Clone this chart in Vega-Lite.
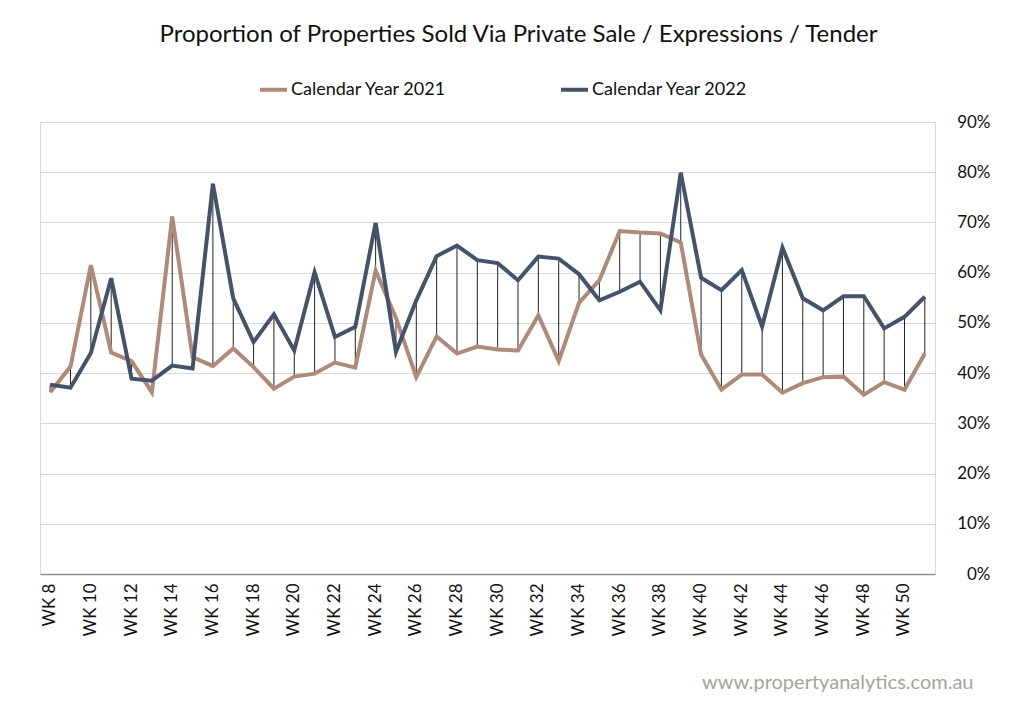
{
  "$schema": "https://vega.github.io/schema/vega-lite/v6.json",
  "width": 895,
  "height": 452,
  "autosize": "none",
  "padding": {"left": 40, "top": 122, "right": 89, "bottom": 138},
  "background": "white",
  "config": {"font": "Lato", "view": {"stroke": "#d9d9d9", "strokeWidth": 1}},
  "title": {"text": "Proportion of Properties Sold Via Private Sale / Expressions / Tender", "fontSize": 24, "fontWeight": "normal", "color": "#111111", "anchor": "middle", "frame": "group", "dx": 31, "offset": 27},
  "data": {"values": [
    {"week": "WK 8", "y2021": 36.2, "y2022": 37.7},
    {"week": "WK 9", "y2021": 41.3, "y2022": 37.1},
    {"week": "WK 10", "y2021": 61.5, "y2022": 44.0},
    {"week": "WK 11", "y2021": 44.1, "y2022": 58.9},
    {"week": "WK 12", "y2021": 42.4, "y2022": 38.9},
    {"week": "WK 13", "y2021": 36.2, "y2022": 38.5},
    {"week": "WK 14", "y2021": 71.2, "y2022": 41.5},
    {"week": "WK 15", "y2021": 43.2, "y2022": 40.9},
    {"week": "WK 16", "y2021": 41.4, "y2022": 77.7},
    {"week": "WK 17", "y2021": 44.9, "y2022": 54.9},
    {"week": "WK 18", "y2021": 41.2, "y2022": 46.2},
    {"week": "WK 19", "y2021": 36.9, "y2022": 51.7},
    {"week": "WK 20", "y2021": 39.3, "y2022": 44.5},
    {"week": "WK 21", "y2021": 39.9, "y2022": 60.1},
    {"week": "WK 22", "y2021": 42.1, "y2022": 47.2},
    {"week": "WK 23", "y2021": 41.1, "y2022": 49.2},
    {"week": "WK 24", "y2021": 60.4, "y2022": 69.9},
    {"week": "WK 25", "y2021": 51.0, "y2022": 44.2},
    {"week": "WK 26", "y2021": 39.2, "y2022": 54.5},
    {"week": "WK 27", "y2021": 47.3, "y2022": 63.3},
    {"week": "WK 28", "y2021": 43.9, "y2022": 65.4},
    {"week": "WK 29", "y2021": 45.3, "y2022": 62.5},
    {"week": "WK 30", "y2021": 44.7, "y2022": 61.9},
    {"week": "WK 31", "y2021": 44.5, "y2022": 58.5},
    {"week": "WK 32", "y2021": 51.5, "y2022": 63.2},
    {"week": "WK 33", "y2021": 42.4, "y2022": 62.8},
    {"week": "WK 34", "y2021": 54.0, "y2022": 59.7},
    {"week": "WK 35", "y2021": 58.5, "y2022": 54.5},
    {"week": "WK 36", "y2021": 68.3, "y2022": 56.2},
    {"week": "WK 37", "y2021": 68.0, "y2022": 58.2},
    {"week": "WK 38", "y2021": 67.8, "y2022": 52.5},
    {"week": "WK 39", "y2021": 66.0, "y2022": 79.9},
    {"week": "WK 40", "y2021": 43.7, "y2022": 59.0},
    {"week": "WK 41", "y2021": 36.7, "y2022": 56.5},
    {"week": "WK 42", "y2021": 39.7, "y2022": 60.5},
    {"week": "WK 43", "y2021": 39.7, "y2022": 49.3},
    {"week": "WK 44", "y2021": 36.1, "y2022": 65.0},
    {"week": "WK 45", "y2021": 38.0, "y2022": 54.9},
    {"week": "WK 46", "y2021": 39.2, "y2022": 52.5},
    {"week": "WK 47", "y2021": 39.3, "y2022": 55.3},
    {"week": "WK 48", "y2021": 35.7, "y2022": 55.3},
    {"week": "WK 49", "y2021": 38.2, "y2022": 48.9},
    {"week": "WK 50", "y2021": 36.7, "y2022": 51.2},
    {"week": "WK 51", "y2021": 43.9, "y2022": 55.2}
  ]},
  "encoding": {
    "x": {
      "field": "week", "type": "ordinal", "sort": null,
      "axis": {
        "values": ["WK 8","WK 10","WK 12","WK 14","WK 16","WK 18","WK 20","WK 22","WK 24","WK 26","WK 28","WK 30","WK 32","WK 34","WK 36","WK 38","WK 40","WK 42","WK 44","WK 46","WK 48","WK 50"],
        "labelAngle": 270, "labelFontSize": 17, "labelColor": "#111111", "labelPadding": 9,
        "ticks": false, "grid": false, "domainColor": "#8c8c8c", "domainWidth": 1.5,
        "title": "www.propertyanalytics.com.au", "titleX": 933, "titleY": 114,
        "titleAlign": "right", "titleBaseline": "alphabetic", "titleColor": "#a5a696",
        "titleFontSize": 20, "titleFontWeight": "normal"
      }
    }
  },
  "layer": [
    {
      "mark": {"type": "rule", "color": "#222222", "strokeWidth": 1},
      "encoding": {
        "y": {"field": "y2021", "type": "quantitative"},
        "y2": {"field": "y2022"}
      }
    },
    {
      "transform": [{"fold": ["y2021", "y2022"], "as": ["series", "pct"]}],
      "mark": {"type": "line", "strokeWidth": 4, "strokeJoin": "miter"},
      "encoding": {
        "y": {
          "field": "pct", "type": "quantitative",
          "scale": {"domain": [0, 90], "nice": false},
          "axis": {
            "orient": "right", "values": [0,10,20,30,40,50,60,70,80,90],
            "labelExpr": "datum.value + '%'", "labelFontSize": 17, "labelColor": "#111111",
            "labelAlign": "right", "labelPadding": 55, "ticks": false, "tickSize": 0,
            "domain": false, "grid": true, "gridColor": "#d9d9d9", "gridWidth": 1, "title": null
          }
        },
        "color": {
          "field": "series", "type": "nominal",
          "scale": {"domain": ["y2021", "y2022"], "range": ["#b08a78", "#44526a"]},
          "legend": {
            "orient": "none", "legendX": 218, "legendY": -48, "direction": "horizontal",
            "title": null, "symbolType": "stroke", "symbolStrokeWidth": 4, "symbolSize": 729,
            "labelFontSize": 18, "labelColor": "#111111", "labelOffset": 2, "columnPadding": 106,
            "labelExpr": "datum.label == 'y2021' ? 'Calendar Year 2021' : 'Calendar Year 2022'"
          }
        }
      }
    }
  ]
}
